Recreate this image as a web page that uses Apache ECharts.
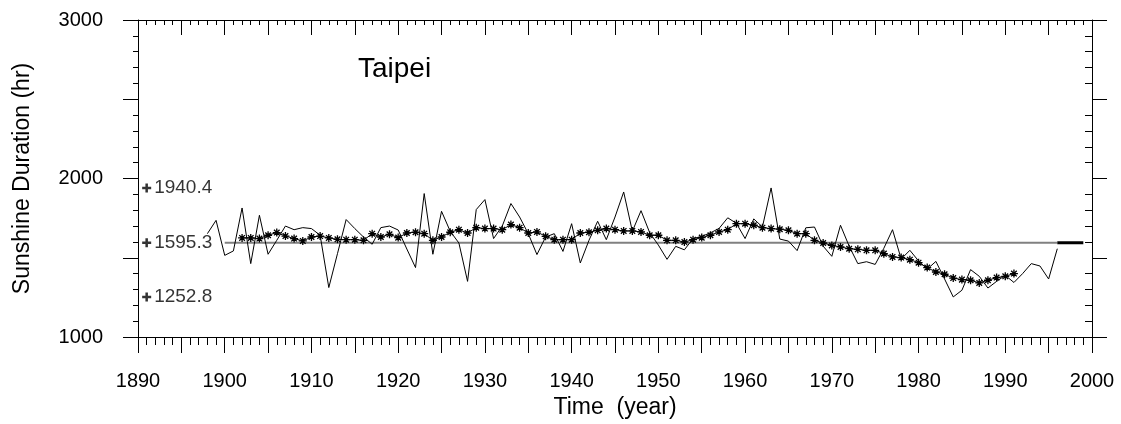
<!DOCTYPE html>
<html>
<head>
<meta charset="utf-8">
<script src="https://cdn.jsdelivr.net/npm/echarts@6/dist/echarts.min.js"></script>
<style>
html,body{margin:0;padding:0;background:#fff;}
#chart{width:1121px;height:424px;}
</style>
</head>
<body>
<div id="chart"></div>
<script>
const rawYears = [1898,1899,1900,1901,1902,1903,1904,1905,1906,1907,1908,1909,1910,1911,1912,1913,1914,1915,1916,1917,1918,1919,1920,1921,1922,1923,1924,1925,1926,1927,1928,1929,1930,1931,1932,1933,1934,1935,1936,1937,1938,1939,1940,1941,1942,1943,1944,1945,1946,1947,1948,1949,1950,1951,1952,1953,1954,1955,1956,1957,1958,1959,1960,1961,1962,1963,1964,1965,1966,1967,1968,1969,1970,1971,1972,1973,1974,1975,1976,1977,1978,1979,1980,1981,1982,1983,1984,1985,1986,1987,1988,1989,1990,1991,1992,1993,1994,1995,1996];
const rawValues = [1652,1736,1515,1543,1814,1463,1768,1522,1610,1700,1677,1690,1684,1642,1312,1526,1741,1684,1631,1585,1690,1700,1675,1555,1438,1905,1522,1793,1667,1593,1351,1804,1867,1621,1700,1842,1757,1652,1520,1631,1652,1540,1715,1467,1610,1730,1614,1757,1915,1667,1797,1658,1580,1490,1572,1550,1621,1635,1657,1685,1752,1717,1621,1745,1694,1940.4,1618,1605,1545,1689,1694,1573,1509,1705,1573,1463,1475,1458,1560,1677,1492,1547,1480,1428,1477,1366,1252.8,1295,1425,1383,1309,1351,1389,1344,1400,1463,1448,1366,1557];

const meanYears = [1902,1903,1904,1905,1906,1907,1908,1909,1910,1911,1912,1913,1914,1915,1916,1917,1918,1919,1920,1921,1922,1923,1924,1925,1926,1927,1928,1929,1930,1931,1932,1933,1934,1935,1936,1937,1938,1939,1940,1941,1942,1943,1944,1945,1946,1947,1948,1949,1950,1951,1952,1953,1954,1955,1956,1957,1958,1959,1960,1961,1962,1963,1964,1965,1966,1967,1968,1969,1970,1971,1972,1973,1974,1975,1976,1977,1978,1979,1980,1981,1982,1983,1984,1985,1986,1987,1988,1989,1990,1991];
const meanValues = [1625,1625,1621,1642,1659,1637,1621,1606,1631,1637,1625,1616,1614,1614,1610,1652,1631,1648,1627,1656,1661,1652,1610,1631,1661,1677,1656,1690,1684,1684,1677,1709,1690,1656,1663,1635,1614,1614,1614,1656,1661,1673,1684,1677,1669,1669,1663,1642,1642,1610,1610,1599,1614,1627,1642,1663,1677,1715,1715,1705,1690,1684,1680,1673,1652,1652,1610,1593,1578,1568,1557,1553,1547,1547,1526,1505,1501,1488,1469,1438,1410,1396,1372,1362,1358,1341,1358,1375,1383,1400];

const refLevel = 1595.3;
const refSpanYears = [1900, 1996];
const refTailYears = [1996, 1999];
const annotYear = 1891;
const annotValues = [1940.4, 1595.3, 1252.8];
const annotLabels = ['1940.4', '1595.3', '1252.8'];
const xTickLabels = [1890,1900,1910,1920,1930,1940,1950,1960,1970,1980,1990,2000];
const yTickLabels = [1000,2000,3000];

const FONT = 'Liberation Sans, Arial, Helvetica, sans-serif';
const chart = echarts.init(document.getElementById('chart'), null, {renderer:'canvas'});

const rawData = rawYears.map((y,i)=>[y, rawValues[i]]);
const meanData = meanYears.map((y,i)=>[y, meanValues[i]]);
const annotData = annotValues.map((v,i)=>({value:[annotYear, v], label:{formatter: annotLabels[i]}}));

const asterisk = 'path://M5,0L5,10M0,5L10,5M1.5,1.5L8.5,8.5M1.5,8.5L8.5,1.5';
const plus = 'path://M3.6,0H6.4V3.6H10V6.4H6.4V10H3.6V6.4H0V3.6H3.6Z';

const yBase = {type:'value', min:1000, max:3000, interval:500, splitLine:{show:false}};
const xBase = {type:'value', min:1890, max:2000, interval:5, splitLine:{show:false}};
const lineBlack = {color:'#000', width:1};

const option = {
  animation:false,
  backgroundColor:'#fff',
  textStyle:{fontFamily:FONT},
  grid:{left:138, right:29, top:20, bottom:87, containLabel:false},
  graphic:[
    {type:'text', left:358, top:55, style:{text:'Taipei', font:'28px '+FONT, fill:'#000'}}
  ],
  xAxis:[
    Object.assign({}, xBase, {
      position:'bottom',
      name:'Time  (year)', nameLocation:'middle', nameGap:57,
      nameTextStyle:{fontSize:23, color:'#000', fontFamily:FONT},
      axisLine:{show:true, lineStyle:lineBlack},
      axisTick:{show:true, inside:false, length:16, lineStyle:lineBlack},
      minorTick:{show:true, splitNumber:5, length:8, lineStyle:lineBlack},
      axisLabel:{show:true, margin:34, fontSize:20, color:'#000', fontFamily:FONT,
        formatter:function(v){ return xTickLabels.indexOf(v) >= 0 ? String(v) : ''; }}
    }),
    Object.assign({}, xBase, {
      position:'top',
      axisLine:{show:true, lineStyle:lineBlack},
      axisTick:{show:true, inside:true, length:15, lineStyle:lineBlack},
      minorTick:{show:true, splitNumber:5, length:5, lineStyle:lineBlack},
      axisLabel:{show:false}
    })
  ],
  yAxis:[
    Object.assign({}, yBase, {
      position:'left',
      name:'Sunshine Duration (hr)', nameLocation:'middle', nameGap:104,
      nameTextStyle:{fontSize:23, color:'#000', fontFamily:FONT},
      axisLine:{show:true, lineStyle:lineBlack},
      axisTick:{show:true, inside:false, length:15, lineStyle:lineBlack},
      minorTick:{show:true, splitNumber:5, length:5, lineStyle:lineBlack},
      axisLabel:{show:true, margin:35, fontSize:20, color:'#000', fontFamily:FONT,
        formatter:function(v){ return yTickLabels.indexOf(v) >= 0 ? String(v) : ''; }}
    }),
    Object.assign({}, yBase, {
      position:'right',
      axisLine:{show:true, lineStyle:lineBlack},
      axisTick:{show:false, inside:true},
      minorTick:{show:true, splitNumber:5, length:7, lineStyle:lineBlack},
      axisLabel:{show:false}
    }),
    Object.assign({}, yBase, {
      position:'right',
      axisLine:{show:false},
      axisTick:{show:true, inside:false, length:15, lineStyle:lineBlack},
      minorTick:{show:false},
      axisLabel:{show:false}
    })
  ],
  series:[
    {type:'line', name:'mean', data:refSpanYears.map(y=>[y, refLevel]), symbol:'none',
     lineStyle:{color:'#808080', width:2}, silent:true, z:1},
    {type:'line', name:'tail', data:refTailYears.map(y=>[y, refLevel]), symbol:'none',
     lineStyle:{color:'#000', width:3}, silent:true, z:2},
    {type:'line', name:'annual', data:rawData, symbol:'none',
     lineStyle:{color:'#000', width:1}, z:3},
    {type:'line', name:'running', data:meanData, symbol:asterisk, symbolSize:8, showAllSymbol:true,
     itemStyle:{color:'none', borderColor:'#000', borderWidth:1.3},
     lineStyle:{color:'#000', width:1}, z:4},
    {type:'scatter', name:'annot', data:annotData, symbol:plus, symbolSize:9,
     itemStyle:{color:'#000'},
     label:{show:true, position:'right', distance:3, fontSize:19, color:'#000', fontFamily:FONT},
     z:5}
  ]
};
chart.setOption(option);
</script>
</body>
</html>
